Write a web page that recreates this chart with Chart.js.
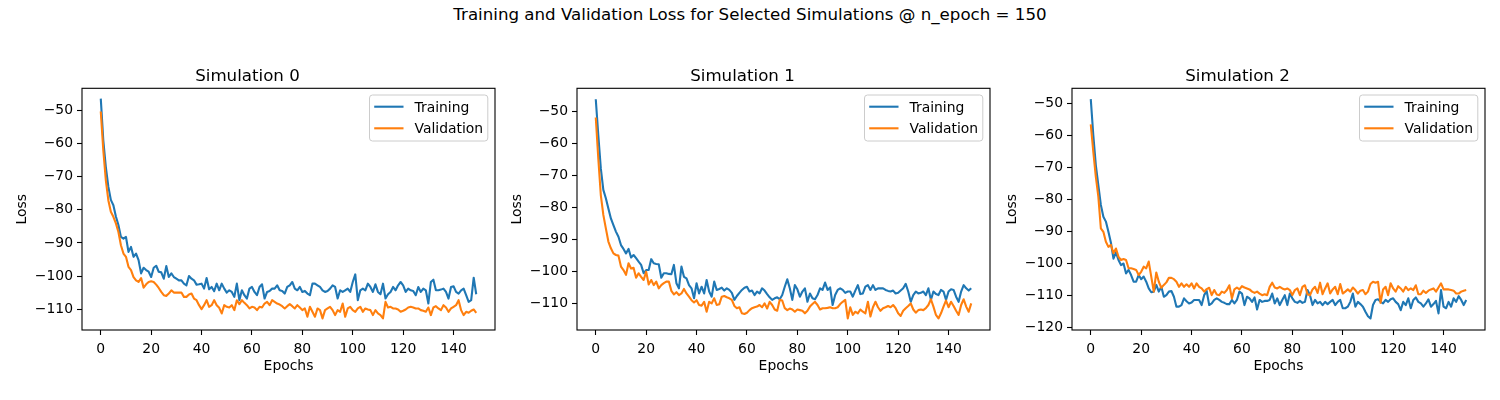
<!DOCTYPE html>
<html>
<head>
<meta charset="utf-8">
<script src="https://cdn.jsdelivr.net/npm/chart.js@4.4.1/dist/chart.umd.min.js"></script>
<style>
  html, body { margin: 0; padding: 0; background: #fff; overflow: hidden; }
  #wrap { position: relative; width: 1500px; height: 400px; }
  #suptitle { position: absolute; left: 0; top: 4.8px; width: 1500px; text-align: center;
    font-family: "DejaVu Sans", sans-serif; font-size: 16.67px; line-height: 20px; color: #000; }
  .panel { position: absolute; top: 0; width: 510px; height: 400px; }
</style>
</head>
<body>
<div id="wrap">
  <div id="suptitle">Training and Validation Loss for Selected Simulations @ n_epoch = 150</div>
  <div class="panel" style="left:0px"><canvas id="c0"></canvas></div>
  <div class="panel" style="left:495px"><canvas id="c1"></canvas></div>
  <div class="panel" style="left:990px"><canvas id="c2"></canvas></div>
</div>
<script>
// ---------- data ----------
const epochs = Array.from({length: 150}, (_, i) => i);
const simTitles = ['Simulation 0', 'Simulation 1', 'Simulation 2'];
const seriesLabels = ['Training', 'Validation'];
const xTicks = [0, 20, 40, 60, 80, 100, 120, 140];
const yTicks0 = [-110, -100, -90, -80, -70, -60, -50];
const yTicks1 = [-110, -100, -90, -80, -70, -60, -50];
const yTicks2 = [-120, -110, -100, -90, -80, -70, -60, -50];

const trainLoss0 = [
-46.4,-59.0,-67.0,-73.0,-77.0,-78.6,-82.0,-84.6,-88.2,-88.7,
-88.2,-92.7,-91.2,-94.2,-93.2,-95.2,-99.2,-97.5,-98.2,-98.7,
-100.3,-97.5,-96.9,-98.7,-98.9,-100.8,-97.0,-100.3,-99.2,-100.3,
-100.8,-101.3,-101.3,-102.3,-102.8,-100.0,-100.8,-101.3,-102.6,-102.5,
-102.3,-103.8,-100.6,-104.0,-103.3,-104.6,-102.3,-104.3,-102.3,-103.8,
-105.0,-104.3,-104.8,-106.3,-102.3,-107.3,-104.3,-105.8,-106.8,-103.8,
-103.3,-104.8,-105.8,-103.3,-102.5,-106.8,-104.8,-104.5,-103.8,-103.8,
-102.8,-104.3,-104.5,-105.3,-103.3,-102.8,-101.8,-103.8,-104.3,-103.3,
-104.8,-104.5,-105.3,-105.8,-102.3,-102.3,-102.8,-103.3,-104.3,-104.8,
-104.5,-103.8,-102.8,-103.3,-106.8,-104.3,-104.8,-104.3,-103.8,-104.8,
-101.8,-99.5,-107.3,-104.3,-103.8,-104.3,-102.3,-103.3,-104.8,-102.5,
-104.8,-105.5,-102.3,-106.8,-105.5,-104.8,-103.3,-104.3,-102.8,-101.8,
-102.8,-104.8,-103.8,-104.3,-104.5,-105.8,-103.3,-104.8,-103.8,-104.3,
-108.3,-101.8,-101.1,-104.3,-104.3,-104.1,-103.8,-104.8,-106.8,-103.3,
-103.1,-104.8,-105.3,-104.3,-103.8,-105.8,-107.8,-107.3,-100.5,-105.5
];
const valLoss0 = [
-50.3,-62.0,-71.0,-77.1,-80.6,-82.1,-84.1,-86.7,-90.7,-93.2,
-94.2,-97.2,-98.2,-100.3,-101.3,-101.8,-100.6,-103.5,-102.5,-101.8,
-101.6,-101.8,-102.6,-103.6,-104.8,-105.8,-106.0,-105.3,-104.3,-105.0,
-105.0,-105.0,-105.0,-106.3,-106.3,-105.6,-105.3,-106.8,-107.3,-108.8,
-110.0,-108.8,-107.3,-109.3,-108.8,-107.3,-108.8,-109.6,-111.3,-108.8,
-109.3,-109.5,-108.8,-110.3,-107.3,-108.5,-107.3,-108.1,-108.8,-109.8,
-109.3,-109.5,-110.3,-109.3,-109.5,-108.3,-107.8,-108.8,-107.3,-107.8,
-108.3,-108.6,-109.1,-109.8,-109.1,-108.5,-109.1,-109.8,-108.8,-109.5,
-110.3,-109.8,-112.3,-109.3,-110.8,-112.3,-109.8,-110.3,-112.8,-110.3,
-109.8,-109.3,-110.3,-111.8,-110.3,-110.8,-108.3,-112.3,-109.8,-109.3,
-110.3,-110.8,-109.8,-109.3,-110.8,-109.8,-110.1,-110.3,-111.8,-110.3,
-111.3,-111.8,-112.8,-107.8,-109.5,-109.3,-109.8,-109.8,-110.1,-110.8,
-110.5,-110.1,-109.5,-109.3,-109.5,-109.8,-109.8,-110.3,-110.5,-110.8,
-109.5,-111.8,-109.5,-109.1,-109.8,-110.3,-108.8,-109.5,-110.8,-109.8,
-109.3,-108.8,-107.3,-110.3,-111.8,-110.8,-111.1,-110.5,-110.1,-111.1
];
const trainLoss1 = [
-46.3,-57.5,-67.9,-74.6,-77.2,-80.4,-83.5,-85.6,-87.6,-89.2,
-91.8,-93.0,-94.4,-93.0,-95.7,-94.9,-95.9,-97.0,-98.0,-100.6,
-99.6,-99.6,-96.2,-97.5,-97.7,-97.8,-102.0,-100.6,-100.6,-100.8,
-100.9,-98.0,-103.7,-105.3,-98.5,-101.7,-102.2,-104.3,-105.3,-108.4,
-103.7,-106.9,-104.8,-106.9,-102.7,-106.3,-107.9,-103.2,-105.8,-105.5,
-105.1,-106.0,-105.3,-105.8,-106.7,-108.9,-107.7,-106.7,-105.8,-105.1,
-104.8,-106.3,-106.0,-107.4,-106.3,-106.9,-105.3,-106.0,-107.1,-108.1,
-108.9,-108.4,-108.1,-108.7,-107.4,-104.8,-102.5,-105.3,-108.9,-104.3,
-105.6,-107.9,-106.3,-105.3,-109.5,-106.9,-108.4,-108.7,-107.4,-105.3,
-105.8,-103.5,-105.8,-105.0,-110.5,-107.4,-105.8,-105.3,-105.8,-106.7,
-106.3,-106.3,-107.9,-106.0,-104.3,-107.1,-106.9,-104.8,-104.3,-105.8,
-104.3,-105.8,-105.3,-105.3,-105.3,-105.8,-106.1,-106.3,-106.0,-106.9,
-106.7,-106.0,-105.3,-103.9,-106.3,-109.5,-107.4,-106.3,-106.9,-106.7,
-106.3,-107.4,-105.3,-108.9,-106.3,-107.1,-107.4,-105.8,-106.3,-108.9,
-106.3,-105.6,-105.8,-107.9,-109.5,-106.3,-104.3,-105.3,-106.0,-105.3
];
const valLoss1 = [
-52.0,-64.8,-76.2,-82.4,-86.6,-90.7,-92.8,-94.4,-94.9,-95.1,
-98.5,-99.6,-101.1,-97.5,-99.1,-98.9,-102.0,-100.6,-101.7,-102.7,
-100.1,-104.1,-102.7,-104.3,-103.2,-105.3,-104.3,-103.7,-103.2,-103.2,
-106.1,-107.2,-106.5,-107.4,-106.9,-105.5,-106.9,-107.9,-109.0,-109.7,
-109.0,-110.5,-110.7,-109.5,-112.6,-109.5,-110.0,-108.4,-110.5,-110.3,
-107.9,-107.7,-108.1,-108.4,-108.9,-110.8,-111.5,-111.2,-113.1,-113.3,
-112.9,-112.1,-111.5,-111.2,-111.0,-110.5,-111.2,-110.0,-111.6,-109.5,
-110.5,-111.9,-112.3,-108.9,-109.1,-111.5,-112.1,-111.6,-111.9,-112.6,
-111.9,-112.1,-112.3,-113.1,-112.3,-111.0,-110.2,-109.5,-110.5,-111.9,
-111.5,-111.5,-111.4,-111.2,-111.5,-111.5,-111.2,-110.2,-109.5,-108.9,
-114.7,-111.2,-113.6,-112.6,-113.1,-111.9,-112.6,-113.1,-109.5,-114.1,
-111.2,-109.5,-111.2,-112.3,-111.5,-111.2,-110.8,-111.2,-110.5,-111.5,
-113.1,-113.9,-112.3,-111.5,-110.8,-110.0,-111.9,-112.9,-112.1,-111.9,
-112.1,-111.5,-110.5,-108.7,-111.0,-113.6,-114.7,-113.1,-111.0,-109.1,
-111.2,-109.5,-110.8,-112.3,-113.6,-110.5,-108.7,-111.0,-112.6,-110.0
];
const trainLoss2 = [
-48.6,-59.8,-69.2,-75.5,-81.7,-85.4,-86.9,-90.1,-93.5,-98.5,
-96.5,-98.9,-100.5,-100.0,-103.1,-102.0,-103.6,-105.7,-105.7,-103.6,
-104.9,-104.1,-105.7,-107.8,-109.0,-108.8,-106.7,-108.8,-107.3,-110.4,
-109.9,-108.8,-108.6,-110.4,-113.5,-113.5,-113.0,-110.9,-111.8,-112.5,
-112.2,-111.4,-111.4,-111.4,-113.0,-109.9,-108.6,-113.0,-112.5,-111.4,
-110.9,-111.4,-112.0,-112.3,-112.7,-112.7,-111.4,-112.5,-111.4,-108.8,
-109.4,-113.0,-110.4,-110.9,-112.0,-110.6,-114.4,-111.4,-112.0,-111.7,
-111.7,-111.4,-109.4,-112.5,-110.9,-113.0,-111.4,-109.9,-113.0,-109.4,
-110.9,-112.0,-112.3,-111.7,-112.3,-112.0,-108.3,-109.9,-113.0,-111.4,
-112.5,-112.0,-113.0,-112.0,-112.7,-112.0,-111.4,-113.0,-112.0,-111.4,
-114.0,-114.0,-113.5,-112.0,-109.4,-113.5,-112.0,-112.7,-113.5,-115.1,
-116.5,-117.2,-113.0,-111.4,-111.2,-112.0,-112.5,-111.4,-112.0,-111.2,
-110.9,-112.0,-112.7,-114.6,-112.0,-113.0,-110.9,-114.0,-111.4,-110.6,
-112.0,-112.5,-113.5,-112.5,-111.2,-113.5,-112.7,-111.7,-115.6,-108.3,
-113.5,-114.0,-112.0,-113.5,-110.9,-112.0,-110.2,-111.4,-113.0,-111.4
];
const valLoss2 = [
-56.5,-65.0,-72.8,-79.1,-89.0,-90.1,-93.2,-94.8,-94.2,-96.8,
-95.3,-97.9,-98.9,-98.6,-98.9,-101.5,-101.5,-101.7,-102.0,-103.6,
-102.6,-101.0,-101.5,-99.4,-104.1,-108.8,-102.8,-105.7,-107.6,-106.7,
-105.9,-104.5,-104.5,-104.9,-105.7,-107.3,-106.2,-107.3,-106.5,-107.3,
-106.2,-107.8,-106.2,-107.3,-107.8,-108.8,-108.0,-107.6,-109.9,-108.3,
-109.7,-109.9,-108.8,-109.2,-108.3,-106.8,-110.9,-108.1,-107.5,-108.1,
-107.1,-107.5,-107.8,-108.1,-108.8,-109.2,-108.8,-109.4,-109.9,-109.6,
-109.9,-107.3,-106.0,-107.5,-107.8,-107.3,-107.8,-108.1,-107.8,-108.3,
-109.9,-108.3,-107.8,-109.9,-107.3,-106.8,-109.6,-109.9,-108.1,-107.3,
-109.2,-106.0,-109.6,-107.8,-106.2,-109.4,-108.1,-107.3,-109.6,-106.4,
-109.4,-108.8,-108.1,-108.8,-107.5,-108.3,-109.4,-108.5,-108.3,-109.6,
-108.8,-106.4,-105.7,-106.0,-105.7,-112.3,-108.1,-107.3,-109.9,-106.2,
-107.8,-108.8,-107.1,-107.8,-108.8,-107.3,-108.3,-107.8,-108.3,-106.8,
-109.6,-109.6,-108.5,-109.2,-108.5,-108.1,-107.8,-108.8,-107.5,-106.2,
-108.1,-108.1,-108.1,-108.3,-108.5,-109.4,-109.4,-108.8,-108.5,-108.3
];

// ---------- styling / helpers ----------
const COLORS = ['#1f77b4', '#ff7f0e'];
Chart.defaults.font.family = '"DejaVu Sans", sans-serif';
Chart.defaults.font.size = 13.9;
Chart.defaults.color = '#000';

function fmtTick(v) {
  return v < 0 ? '\u2212' + Math.abs(v) : String(v);
}

const framePlugin = {
  id: 'frameBox',
  afterDatasetsDraw(chart) {
    const {ctx, chartArea: a} = chart;
    ctx.save();
    ctx.strokeStyle = '#000';
    ctx.lineWidth = 1.1;
    ctx.strokeRect(a.left, a.top, a.right - a.left, a.bottom - a.top);
    ctx.restore();
  }
};

const boxLegendPlugin = {
  id: 'boxLegend',
  afterDraw(chart) {
    const {ctx, chartArea: a} = chart;
    const ds = chart.data.datasets;
    ctx.save();
    ctx.font = '13.9px "DejaVu Sans", sans-serif';
    const textW = Math.max(...ds.map(d => ctx.measureText(d.label).width));
    const pad = 4.7, handle = 29.3, gap = 11, rowH = 21.6;
    const w = pad + handle + gap + textW + pad;
    const h = 46;
    const x = a.right - 7.2 - w, y = a.top + 6.7;
    ctx.beginPath();
    if (ctx.roundRect) ctx.roundRect(x, y, w, h, 3); else ctx.rect(x, y, w, h);
    ctx.fillStyle = 'rgba(255,255,255,0.8)';
    ctx.fill();
    ctx.strokeStyle = '#cccccc';
    ctx.lineWidth = 1;
    ctx.stroke();
    ds.forEach((d, i) => {
      const cy = y + 11.7 + i * rowH;
      ctx.strokeStyle = d.borderColor;
      ctx.lineWidth = 2.1;
      ctx.beginPath();
      ctx.moveTo(x + pad, cy);
      ctx.lineTo(x + pad + handle, cy);
      ctx.stroke();
      ctx.fillStyle = '#000';
      ctx.textAlign = 'left';
      ctx.textBaseline = 'middle';
      ctx.fillText(d.label, x + pad + handle + gap, cy + 1.5);
    });
    ctx.restore();
  }
};

function makeChart(id, title, train, val, yMin, yMax, yTicks) {
  new Chart(document.getElementById(id), {
    type: 'line',
    data: {
      labels: epochs,
      datasets: [
        { label: seriesLabels[0], data: train, borderColor: COLORS[0], backgroundColor: COLORS[0],
          borderWidth: 2.1, pointRadius: 0, tension: 0, fill: false, order: 1, borderJoinStyle: 'round' },
        { label: seriesLabels[1], data: val, borderColor: COLORS[1], backgroundColor: COLORS[1],
          borderWidth: 2.1, pointRadius: 0, tension: 0, fill: false, order: 0, borderJoinStyle: 'round' }
      ]
    },
    options: {
      animation: false,
      responsive: true,
      maintainAspectRatio: false,
      events: [],
      layout: { padding: { top: 0, left: 0, right: 15, bottom: 0 } },
      plugins: {
        legend: { display: false },
        tooltip: { enabled: false },
        title: { display: true, text: title, color: '#000',
                 font: { size: 16.67, weight: 'normal' }, padding: { top: 66.5, bottom: 1.8 } }
      },
      scales: {
        x: {
          type: 'linear', min: -7.45, max: 156.45,
          afterBuildTicks: s => { s.ticks = xTicks.map(v => ({ value: v })); },
          afterFit: s => { s.height = 70; },
          ticks: { autoSkip: false, maxRotation: 0, padding: 6, color: '#000', callback: v => fmtTick(v) },
          grid: { drawOnChartArea: false, drawTicks: true, tickLength: 5, tickColor: '#000', tickWidth: 1.1 },
          border: { display: false },
          title: { display: true, text: 'Epochs', color: '#000', font: { size: 13.9 },
                   padding: { top: 0, bottom: 25.2 } }
        },
        y: {
          type: 'linear', min: yMin, max: yMax,
          afterBuildTicks: s => { s.ticks = yTicks.map(v => ({ value: v })); },
          afterFit: s => { s.width = 82; },
          ticks: { autoSkip: false, padding: 4, color: '#000', callback: v => fmtTick(v) },
          grid: { drawOnChartArea: false, drawTicks: true, tickLength: 5, tickColor: '#000', tickWidth: 1.1 },
          border: { display: false },
          title: { display: true, text: 'Loss', color: '#000', font: { size: 13.9 },
                   padding: { top: 13.6, bottom: 0 } }
        }
      }
    },
    plugins: [framePlugin, boxLegendPlugin]
  });
}

makeChart('c0', simTitles[0], trainLoss0, valLoss0, -116.3, -43.3, yTicks0);
makeChart('c1', simTitles[1], trainLoss1, valLoss1, -118.3, -42.9, yTicks1);
makeChart('c2', simTitles[2], trainLoss2, valLoss2, -120.8, -45.2, yTicks2);
</script>
</body>
</html>
